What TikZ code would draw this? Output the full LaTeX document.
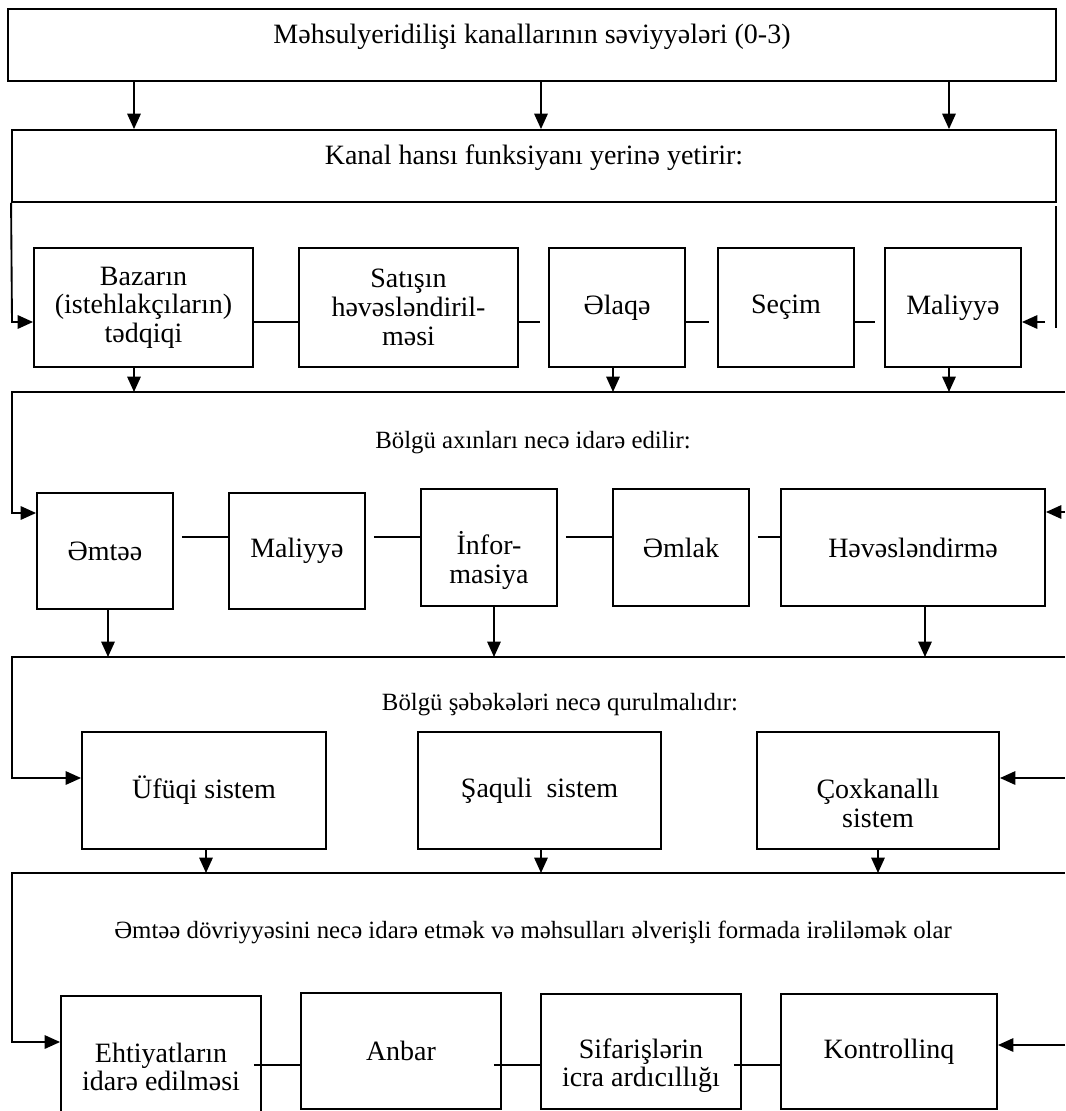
\documentclass[tikz,border=0pt]{standalone}
\usepackage{fontspec}
\setmainfont{Liberation Serif}
\usetikzlibrary{arrows.meta,calc}
\tikzset{
 ln/.style={line width=1.4pt},
 arr/.style={line width=1.4pt, -{Triangle[length=11.5pt,width=10pt]}},
 bx/.style={draw, line width=1.4pt, inner sep=0pt, align=center, font=\fontsize{21pt}{21.5pt}\selectfont},
 big/.style={inner sep=0pt, font=\fontsize{21pt}{22pt}\selectfont},
 sm/.style={inner sep=0pt, font=\fontsize{18.6pt}{20pt}\selectfont},
 txt/.style={inner sep=0pt, align=center, font=\fontsize{21pt}{21.5pt}\selectfont},
}
\newcommand\mybx[6]{\node[bx, minimum width={(#4-#2)*0.75pt}, minimum height={(#5-#3)*0.75pt}] (#1) at ({(#2+#4)/2},{(#3+#5)/2}) {#6};}
\begin{document}
\begin{tikzpicture}[x=0.75pt,y=-0.75pt]
\useasboundingbox (0,0) rectangle (1065,1111);
% level 1
\mybx{A}{8}{9}{1056}{81}{}
\node[big] (At) at (532,37) {Məhsulyeridilişi kanallarının səviyyələri (0-3)};
\mybx{B}{12}{130}{1056}{202}{}
\node[big] (Bt) at (534,158) {Kanal hansı funksiyanı yerinə yetirir:};
\foreach \x in {134,541,949} \draw[arr] (\x,0 |- A.south) -- (\x,0 |- B.north);
% row 1
\mybx{R1a}{34}{248}{253}{367}{Bazarın\\(istehlakçıların)\\tədqiqi}
\mybx{R1b}{299}{248}{518}{367}{Satışın\\həvəsləndiril-\\məsi}
\mybx{R1c}{549}{248}{685}{367}{Əlaqə}
\mybx{R1d}{718}{248}{854}{367}{Seçim}
\mybx{R1e}{885}{248}{1021}{367}{Maliyyə}
\draw[arr] (B.south west) -- (12,322) -- (R1a.west |- 0,322);
\coordinate (r1t) at (1056,206);
\coordinate (r1b) at (1056,328);
\draw[ln] (r1t) -- (r1b);
\coordinate (r1s) at (1045,322);
\draw[arr] (r1s) -- (R1e.east |- r1s);
\draw[ln] (R1a.east |- 0,322) -- (R1b.west |- 0,322);
\draw[ln] (R1b.east |- 0,322) -- ($(R1c.west |- 0,322)+(-8,0)$);
\draw[ln] (R1c.east |- 0,322) -- ($(R1d.west |- 0,322)+(-8,0)$);
\draw[ln] (R1d.east |- 0,322) -- ($(R1e.west |- 0,322)+(-9,0)$);
% row 2
\mybx{R2a}{37}{493}{173}{609}{Əmtəə}
\mybx{R2b}{229}{493}{365}{609}{Maliyyə}
\mybx{R2c}{421}{489}{557}{606}{}
\node[txt] (R2ct) at ($(R2c.center)+(0,13)$) {İnfor-\\masiya};
\mybx{R2d}{613}{489}{749}{606}{Əmlak}
\mybx{R2e}{781}{489}{1045}{606}{Həvəsləndirmə}
% level C
\coordinate (Cl) at (12,392);
\coordinate (Cr) at (1065,392);
\draw[arr] (134,0 |- R1a.south) -- (134,0 |- Cl);
\draw[arr] (613,0 |- R1c.south) -- (613,0 |- Cl);
\draw[arr] (949,0 |- R1e.south) -- (949,0 |- Cl);
\draw[arr] (Cr) -- (Cl) -- (Cl |- 0,513) -- (R2a.west |- 0,513);
\node[sm] (Ct) at (533,443) {Bölgü axınları necə idarə edilir:};
\draw[ln] ($(R2a.east |- 0,537)+(8,0)$) -- (R2b.west |- 0,537);
\draw[ln] ($(R2b.east |- 0,537)+(8,0)$) -- (R2c.west |- 0,537);
\draw[ln] ($(R2c.east |- 0,537)+(8,0)$) -- (R2d.west |- 0,537);
\draw[ln] ($(R2d.east |- 0,537)+(8,0)$) -- (R2e.west |- 0,537);
\coordinate (r2s) at (1065,512);
\draw[arr] (r2s) -- (R2e.east |- r2s);
% row 3
\mybx{R3a}{82}{732}{326}{849}{Üfüqi sistem}
\mybx{R3b}{418}{732}{661}{849}{Şaquli\ \ sistem}
\mybx{R3c}{757}{732}{999}{849}{}
\node[txt] (R3ct) at ($(R3c.center)+(0,13)$) {Çoxkanallı\\sistem};
% level D
\coordinate (Dl) at (12,657);
\coordinate (Dr) at (1065,657);
\draw[arr] (108,0 |- R2a.south) -- (108,0 |- Dl);
\draw[arr] (494,0 |- R2c.south) -- (494,0 |- Dl);
\draw[arr] (925,0 |- R2e.south) -- (925,0 |- Dl);
\draw[arr] (Dr) -- (Dl) -- (Dl |- 0,778) -- (R3a.west |- 0,778);
\node[sm] (Dt) at (560,705) {Bölgü şəbəkələri necə qurulmalıdır:};
\coordinate (r3s) at (1065,778);
\draw[arr] (r3s) -- (R3c.east |- r3s);
% row 4
\mybx{R4a}{61}{996}{261}{1114}{}
\node[txt] (R4at) at (161,1067) {Ehtiyatların\\idarə edilməsi};
\mybx{R4b}{301}{993}{501}{1109}{Anbar}
\mybx{R4c}{541}{994}{741}{1109}{}
\node[txt] (R4ct) at ($(R4c.center)+(0,14)$) {Sifarişlərin\\icra ardıcıllığı};
\mybx{R4d}{781}{994}{997}{1109}{Kontrollinq}
% level E
\coordinate (El) at (12,873);
\coordinate (Er) at (1065,873);
\draw[arr] (206,0 |- R3a.south) -- (206,0 |- El);
\draw[arr] (541,0 |- R3b.south) -- (541,0 |- El);
\draw[arr] (878,0 |- R3c.south) -- (878,0 |- El);
\draw[arr] (Er) -- (El) -- (El |- 0,1042) -- (R4a.west |- 0,1042);
\node[sm] (Et) at (533,932) {Əmtəə dövriyyəsini necə idarə etmək və məhsulları əlverişli formada irəliləmək olar};
\coordinate (r4s) at (1065,1045);
\draw[arr] (r4s) -- (R4d.east |- r4s);
\draw[ln] ($(R4a.east |- 0,1065)+(-8,0)$) -- (R4b.west |- 0,1065);
\draw[ln] ($(R4b.east |- 0,1065)+(-8,0)$) -- (R4c.west |- 0,1065);
\draw[ln] ($(R4c.east |- 0,1065)+(-8,0)$) -- (R4d.west |- 0,1065);
\end{tikzpicture}
\end{document}
